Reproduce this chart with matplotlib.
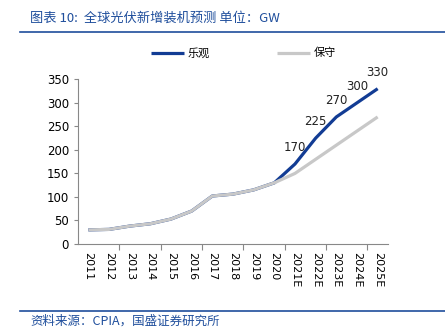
import matplotlib
matplotlib.use("Agg")
import matplotlib.pyplot as plt
from matplotlib.lines import Line2D

plt.rcParams['font.family'] = ['Noto Sans CJK SC', 'DejaVu Sans']

years = ['2011', '2012', '2013', '2014', '2015', '2016', '2017', '2018',
         '2019', '2020', '2021E', '2022E', '2023E', '2024E', '2025E']
optimistic = [30, 31, 38, 43, 53, 70, 102, 106, 115, 130, 170, 225, 270, 300, 330]
conservative = [30, 31, 38, 43, 53, 70, 102, 106, 115, 130, 150, 180, 210, 240, 270]
labelled = ['2021E', '2022E', '2023E', '2024E', '2025E']

blue = '#123C94'
gray = '#C8C8C8'
title_blue = '#1F4E9C'

fig = plt.figure(figsize=(4.45, 3.34), dpi=100)
ax = fig.add_axes([0.1753, 0.2695, 0.6966, 0.4931])

x = list(range(len(years)))
ax.plot(x, optimistic, color=blue, lw=2.3, label='乐观', zorder=2,
        solid_capstyle='butt')
ax.plot(x, conservative, color=gray, lw=2.3, label='保守', zorder=3,
        solid_capstyle='butt')

for i, y in enumerate(years):
    if y in labelled:
        ax.annotate(str(optimistic[i]), (i, optimistic[i]), xytext=(0, 12),
                    textcoords='offset points', ha='center', va='center',
                    fontsize=8.5, family='DejaVu Sans', color='#222222')

ax.set_xlim(-0.5, len(years) - 0.5)
ax.set_ylim(0, 350)
ax.set_yticks(range(0, 351, 50))
ax.set_xticks(x)
ax.set_xticklabels(years, rotation=270, family='DejaVu Sans', fontsize=8)
ax.set_xticks([1.5 + 2 * k for k in range(7)], minor=True)
ax.tick_params(axis='x', which='major', length=0, pad=6)
ax.tick_params(axis='x', which='minor', length=4, color='#888888', width=0.8)
ax.tick_params(axis='y', length=3, color='#888888', width=0.8, labelsize=8.5)
for lbl in ax.get_yticklabels():
    lbl.set_family('DejaVu Sans')

for s in ['top', 'right']:
    ax.spines[s].set_visible(False)
for s in ['left', 'bottom']:
    ax.spines[s].set_color('#888888')
    ax.spines[s].set_linewidth(0.8)

ax.legend(loc='center', bbox_to_anchor=(0.547, 0.841),
          bbox_transform=fig.transFigure, ncol=2, frameon=False,
          fontsize=8, handlelength=3, handletextpad=0.3, columnspacing=6)

# header / footer
fig.text(30 / 445, 1 - 18 / 334, '图表 10:  全球光伏新增装机预测 单位：GW',
         color=title_blue, fontsize=9.5, va='center', ha='left')
fig.add_artist(Line2D([20 / 445, 1], [1 - 32 / 334] * 2, color=title_blue,
                      lw=1.2, transform=fig.transFigure))
fig.add_artist(Line2D([20 / 445, 1], [1 - 311 / 334] * 2, color=title_blue,
                      lw=1.2, transform=fig.transFigure))
fig.text(30 / 445, 1 - 321 / 334, '资料来源：CPIA，国盛证券研究所',
         color=title_blue, fontsize=9, va='center', ha='left')

fig.savefig('out.png', dpi=100)
